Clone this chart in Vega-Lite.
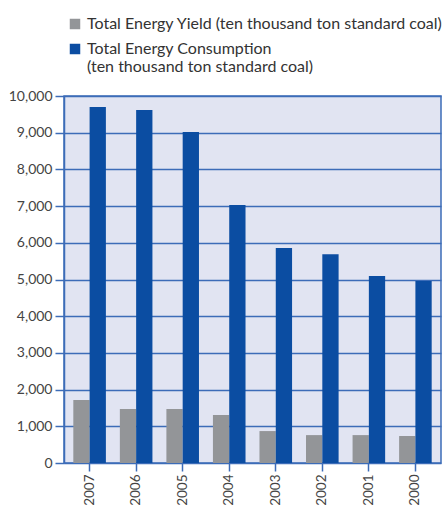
{
  "$schema": "https://vega.github.io/schema/vega-lite/v6.json",
  "width": 377,
  "height": 367,
  "autosize": {"type": "none"},
  "padding": {"left": 64, "top": 96, "right": 2, "bottom": 49},
  "background": "#ffffff",
  "config": {
    "font": "Lato",
    "view": {"fill": "#e1e4f2", "stroke": "#3c6cb8", "strokeWidth": 1.5}
  },
  "data": {
    "values": [
      {"year": "2007", "series": "Total Energy Yield (ten thousand ton standard coal)", "value": 1717},
      {"year": "2006", "series": "Total Energy Yield (ten thousand ton standard coal)", "value": 1470},
      {"year": "2005", "series": "Total Energy Yield (ten thousand ton standard coal)", "value": 1470},
      {"year": "2004", "series": "Total Energy Yield (ten thousand ton standard coal)", "value": 1310},
      {"year": "2003", "series": "Total Energy Yield (ten thousand ton standard coal)", "value": 870},
      {"year": "2002", "series": "Total Energy Yield (ten thousand ton standard coal)", "value": 760},
      {"year": "2001", "series": "Total Energy Yield (ten thousand ton standard coal)", "value": 760},
      {"year": "2000", "series": "Total Energy Yield (ten thousand ton standard coal)", "value": 735},
      {"year": "2007", "series": "Total Energy Consumption|(ten thousand ton standard coal)", "value": 9700},
      {"year": "2006", "series": "Total Energy Consumption|(ten thousand ton standard coal)", "value": 9620},
      {"year": "2005", "series": "Total Energy Consumption|(ten thousand ton standard coal)", "value": 9020},
      {"year": "2004", "series": "Total Energy Consumption|(ten thousand ton standard coal)", "value": 7030},
      {"year": "2003", "series": "Total Energy Consumption|(ten thousand ton standard coal)", "value": 5860},
      {"year": "2002", "series": "Total Energy Consumption|(ten thousand ton standard coal)", "value": 5690},
      {"year": "2001", "series": "Total Energy Consumption|(ten thousand ton standard coal)", "value": 5095},
      {"year": "2000", "series": "Total Energy Consumption|(ten thousand ton standard coal)", "value": 4960}
    ]
  },
  "mark": {"type": "bar"},
  "encoding": {
    "x": {
      "field": "year",
      "type": "nominal",
      "sort": ["2007", "2006", "2005", "2004", "2003", "2002", "2001", "2000"],
      "scale": {"paddingInner": 0.3, "paddingOuter": 0.2},
      "axis": {
        "title": null,
        "labelAngle": -90,
        "labelAlign": "right",
        "labelBaseline": "middle",
        "labelFontSize": 13.5,
        "labelColor": "#444444",
        "labelPadding": 3,
        "tickColor": "#3c6cb8",
        "tickWidth": 1.5,
        "tickSize": 8,
        "domain": false
      }
    },
    "xOffset": {
      "field": "series",
      "type": "nominal",
      "sort": ["Total Energy Yield (ten thousand ton standard coal)", "Total Energy Consumption|(ten thousand ton standard coal)"],
      "scale": {"paddingInner": 0}
    },
    "y": {
      "field": "value",
      "type": "quantitative",
      "scale": {"domain": [0, 10000], "nice": false},
      "axis": {
        "title": null,
        "values": [0, 1000, 2000, 3000, 4000, 5000, 6000, 7000, 8000, 9000, 10000],
        "format": ",d",
        "labelFontSize": 14,
        "labelColor": "#444444",
        "labelPadding": 3,
        "tickColor": "#3c6cb8",
        "tickWidth": 1.5,
        "tickSize": 9,
        "domainColor": "#3c6cb8",
        "domainWidth": 1.5,
        "grid": true,
        "gridColor": "#3c6cb8",
        "gridWidth": 1.5
      }
    },
    "color": {
      "field": "series",
      "type": "nominal",
      "sort": ["Total Energy Yield (ten thousand ton standard coal)", "Total Energy Consumption|(ten thousand ton standard coal)"],
      "scale": {"range": ["#939598", "#0b4da2"]},
      "legend": {
        "title": null,
        "orient": "none",
        "legendX": 3,
        "legendY": -80,
        "symbolType": "square",
        "symbolSize": 110,
        "symbolStrokeWidth": 0,
        "symbolOffset": 0,
        "labelFontSize": 16,
        "labelColor": "#333333",
        "labelLimit": 420,
        "labelOffset": 4,
        "rowPadding": 9,
        "labelExpr": "split(datum.label, '|')"
      }
    }
  }
}
